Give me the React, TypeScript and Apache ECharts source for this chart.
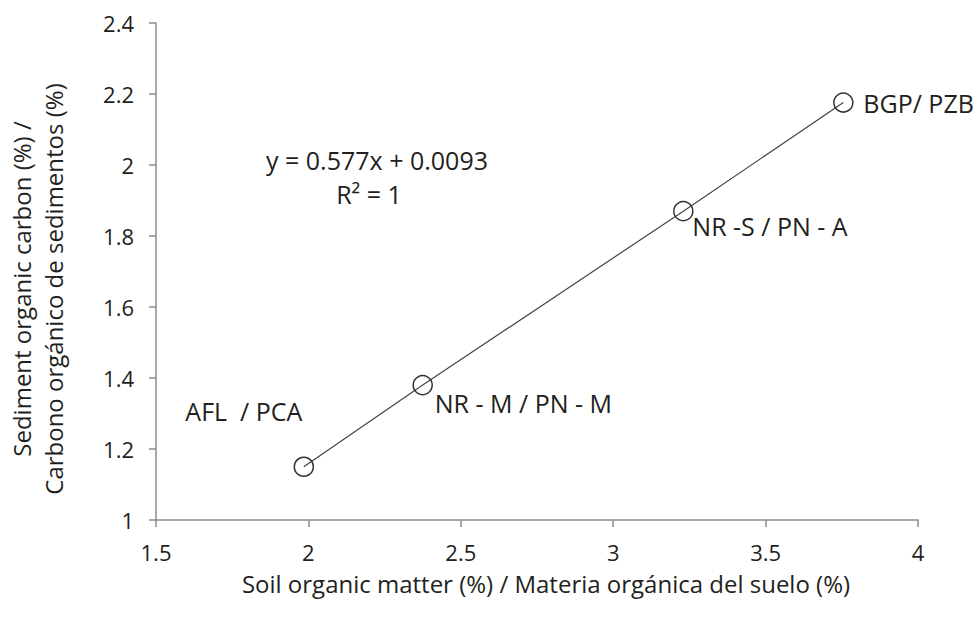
import React, { useEffect, useRef } from "react";
import * as echarts from "echarts";

const soilOM = [1.985, 2.375, 3.23, 3.755];
const sedOC = [1.15, 1.38, 1.87, 2.176];
const siteLabels = ["AFL  / PCA", "NR - M / PN - M", "NR -S / PN - A", "BGP/ PZB"];
const labelOffsets: [number, number, string][] = [
  [-60, -56, "center"],
  [12, 18, "left"],
  [9, 15, "left"],
  [20, 0, "left"],
];
const xName = "Soil organic matter (%) / Materia orgánica del suelo (%)";
const yName = "Sediment organic carbon (%) /\nCarbono orgánico de sedimentos (%)";
const equation = "y = 0.577x + 0.0093";
const rSquared = "R² = 1";

const FONT = "'Open Sans', 'Noto Sans', sans-serif";
const TXT = "#231f20";
const AXIS = "#8c8c8c";

export default function App() {
  const ref = useRef<HTMLDivElement>(null);
  useEffect(() => {
    document.body.style.margin = "0";
    const chart = echarts.init(ref.current!, undefined, { renderer: "svg" });
    const data = soilOM.map((x, i) => ({
      value: [x, sedOC[i]],
      label: {
        show: true,
        position: "inside",
        offset: [labelOffsets[i][0], labelOffsets[i][1]],
        align: labelOffsets[i][2],
        verticalAlign: "middle",
        formatter: siteLabels[i],
        color: TXT,
        fontSize: 25,
        fontFamily: FONT,
      },
    }));
    chart.setOption({
      animation: false,
      backgroundColor: "#ffffff",
      grid: { left: 156, right: 59, top: 23, bottom: 97, containLabel: false },
      xAxis: {
        type: "value",
        min: 1.5,
        max: 4,
        interval: 0.5,
        axisLine: { show: true, lineStyle: { color: AXIS, width: 1.5 } },
        axisTick: { show: true, inside: false, length: 7, lineStyle: { color: AXIS, width: 1.5 } },
        axisLabel: { color: TXT, fontSize: 22, fontFamily: FONT, margin: 21 },
        splitLine: { show: false },
      },
      yAxis: {
        type: "value",
        min: 1,
        max: 2.4,
        interval: 0.2,
        axisLine: { show: true, lineStyle: { color: AXIS, width: 1.5 } },
        axisTick: { show: true, inside: false, length: 7, lineStyle: { color: AXIS, width: 1.5 } },
        axisLabel: { color: TXT, fontSize: 22, fontFamily: FONT, margin: 22 },
        splitLine: { show: false },
      },
      series: [
        {
          type: "line",
          data,
          symbol: "circle",
          symbolSize: 19,
          lineStyle: { color: "#444444", width: 1.2 },
          itemStyle: { color: "rgba(255,255,255,0)", borderColor: "#333333", borderWidth: 1.5 },
          z: 3,
        },
      ],
      graphic: [
        {
          type: "text",
          x: 546,
          y: 583,
          style: { text: xName, fill: TXT, font: `24px ${FONT}`, align: "center", verticalAlign: "middle" },
        },
        {
          type: "text",
          x: 37,
          y: 289,
          rotation: Math.PI / 2,
          style: {
            text: yName,
            fill: TXT,
            font: `24px ${FONT}`,
            lineHeight: 32,
            align: "center",
            verticalAlign: "middle",
          },
        },
        {
          type: "text",
          x: 377,
          y: 160,
          style: { text: equation, fill: TXT, font: `25px ${FONT}`, align: "center", verticalAlign: "middle" },
        },
        {
          type: "text",
          x: 369,
          y: 194,
          style: { text: rSquared, fill: TXT, font: `25px ${FONT}`, align: "center", verticalAlign: "middle" },
        },
      ],
    });
    return () => chart.dispose();
  }, []);
  return <div ref={ref} style={{ position: "fixed", left: 0, top: 0, width: 977, height: 617 }} />;
}
